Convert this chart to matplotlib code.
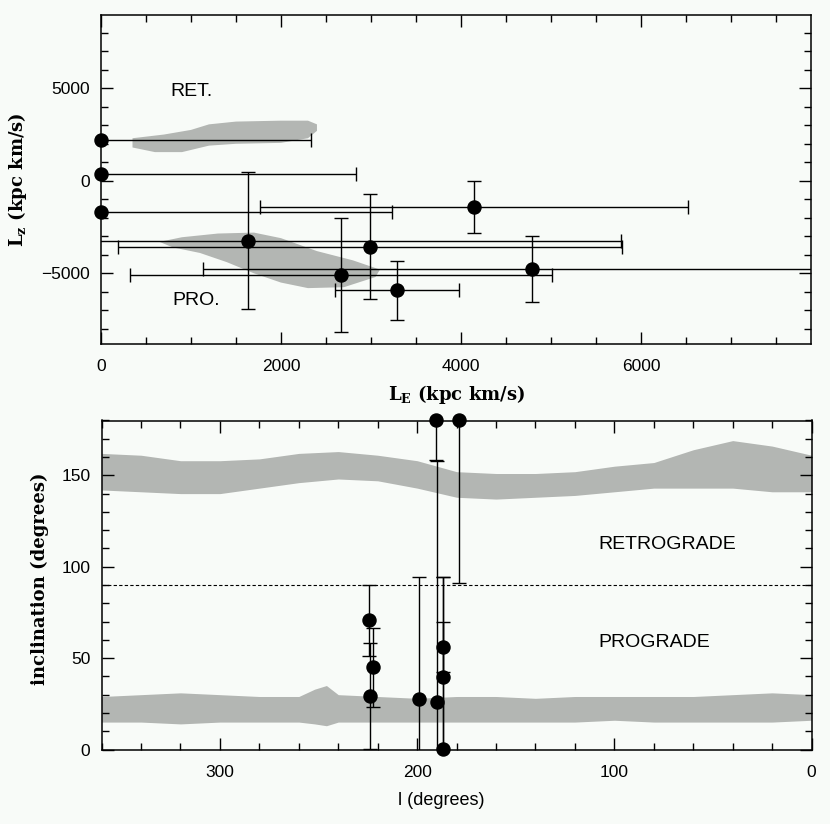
import numpy as np
import matplotlib
matplotlib.use("Agg")
import matplotlib.pyplot as plt
from matplotlib.ticker import MultipleLocator

# ---- top panel: L_E vs L_z ----
le = [0, 0, 0, 1633, 2986, 2667, 4785, 3292, 4144]
lz = [2205, 370, -1700, -3240, -3560, -5090, -4770, -5920, -1400]
le_err = [2330, 2830, 3230, 4145, 2800, 2350, 3650, 690, 2375]
lz_err = [0, 0, 0, 3700, 2850, 3070, 1800, 1600, 1400]

# outlines of the simulated orbit clouds
ret_cloud_le = [350, 700, 1000, 1200, 1500, 2000, 2300, 2400, 2400, 2300, 2000, 1500, 1200, 900, 600, 350]
ret_cloud_lz = [2300, 2500, 2750, 3050, 3200, 3250, 3250, 3050, 2700, 2300, 2050, 2000, 1900, 1550, 1550, 1800]
pro_cloud_le = [650, 900, 1300, 1700, 2000, 2400, 2800, 3100, 3050, 2700, 2300, 2000, 1700, 1400, 1100, 800]
pro_cloud_lz = [-3300, -3050, -2850, -2800, -3100, -3800, -4300, -4800, -5200, -5750, -5800, -5500, -5000, -4400, -3900, -3600]

# ---- bottom panel: longitude vs inclination ----
lon = [224.5, 222.3, 223.9, 199.3, 190.0, 187.0, 187.0, 186.8, 190.2, 178.7]
incl = [70.8, 45.0, 29.2, 27.8, 26.1, 56.0, 39.6, 0.5, 180.0, 180.0]
incl_err = [19.4, 21.6, 28.8, 66.6, 132.0, 13.7, 54.8, 94.0, 21.7, 89.0]

band_lon = [360, 340, 320, 300, 280, 260, 240, 220, 200, 180, 160, 140, 120, 100, 80, 60, 40, 20, 0]
retro_hi = [162, 161, 158, 158, 159, 162, 163, 161, 158, 152, 151, 151, 152, 155, 157, 164, 169, 166, 161]
retro_lo = [142, 141, 140, 140, 143, 146, 148, 147, 143, 138, 137, 138, 139, 141, 143, 143, 143, 141, 141]

pro_lon = [360, 340, 320, 300, 280, 260, 252, 246, 240, 220, 200, 180, 160, 140, 120, 100, 80, 60, 40, 20, 0]
pro_hi = [29, 30, 31, 30, 29, 29, 33, 35, 30, 29, 28, 29, 29, 28, 29, 29, 29, 29, 30, 31, 30]
pro_lo = [15, 15, 14, 15, 15, 15, 14, 13, 15, 15, 15, 15, 15, 15, 15, 16, 15, 15, 15, 15, 16]

bg = '#f8fbf8'
cloud = '#b3b6b3'
sans = ['Liberation Sans', 'DejaVu Sans']
serif = ['DejaVu Serif']

plt.rcParams['font.family'] = sans
plt.rcParams['mathtext.fontset'] = 'dejavuserif'

fig = plt.figure(figsize=(8.3, 8.24), dpi=100, facecolor=bg)
ax1 = fig.add_axes([101 / 830, 1 - 344 / 824, 710 / 830, 329 / 824], facecolor=bg)
ax2 = fig.add_axes([101.6 / 830, 1 - 749.5 / 824, 710 / 830, 329 / 824], facecolor=bg)


def style_axes(ax):
    ax.tick_params(which='both', direction='in', top=True, right=True, width=1.0,
                   labelsize=12.5, pad=11)
    ax.tick_params(which='major', length=8.5)
    ax.tick_params(which='minor', length=5)
    ax.tick_params(axis='y', pad=8)
    for s in ax.spines.values():
        s.set_linewidth(1.1)


# top panel
ax1.fill(ret_cloud_le, ret_cloud_lz, color=cloud, lw=0, zorder=1)
ax1.fill(pro_cloud_le, pro_cloud_lz, color=cloud, lw=0, zorder=1)
ax1.errorbar(le, lz, xerr=le_err, fmt='none', ecolor='black', elinewidth=1.0,
             capsize=4.7, capthick=1.0, zorder=2)
has_yerr = [i for i in range(len(lz_err)) if lz_err[i] > 0]
ax1.errorbar([le[i] for i in has_yerr], [lz[i] for i in has_yerr],
             yerr=[lz_err[i] for i in has_yerr], fmt='none', ecolor='black',
             elinewidth=1.0, capsize=4.7, capthick=1.0, zorder=2)
ax1.plot(le, lz, 'o', color='black', ms=9.4, clip_on=False, zorder=3)
ax1.text(770, 4800, 'RET.', fontsize=14, va='center', ha='left')
ax1.text(790, -6450, 'PRO.', fontsize=14, va='center', ha='left')

ax1.set_xlim(0, 7890)
ax1.set_ylim(-8820, 8960)
ax1.xaxis.set_major_locator(MultipleLocator(2000))
ax1.xaxis.set_minor_locator(MultipleLocator(500))
ax1.yaxis.set_major_locator(MultipleLocator(5000))
ax1.yaxis.set_minor_locator(MultipleLocator(1000))
style_axes(ax1)
ax1.set_xlabel(r'L$_\mathbf{E}$ (kpc km/s)', family=serif, fontsize=13, fontweight='bold')
ax1.set_ylabel(r'L$_\mathbf{z}$ (kpc km/s)', family=serif, fontsize=13, fontweight='bold')
ax1.xaxis.set_label_coords(0.5, -0.155)
ax1.xaxis.label.set_verticalalignment('center')
ax1.yaxis.set_label_coords(-0.118, 0.498)
ax1.yaxis.label.set_verticalalignment('center')

# bottom panel
ax2.fill_between(band_lon, retro_lo, retro_hi, color=cloud, lw=0, zorder=1)
ax2.fill_between(pro_lon, pro_lo, pro_hi, color=cloud, lw=0, zorder=1)
ax2.axhline(90, color='black', lw=0.8, ls=(0, (3, 2)), zorder=2)
ax2.errorbar(lon, incl, yerr=incl_err, fmt='none', ecolor='black', elinewidth=1.0,
             capsize=4.7, capthick=1.0, zorder=2)
ax2.plot(lon, incl, 'o', color='black', ms=9.4, clip_on=False, zorder=3)
ax2.text(108, 112, 'RETROGRADE', fontsize=14, va='center', ha='left')
ax2.text(108, 58.6, 'PROGRADE', fontsize=14, va='center', ha='left')

ax2.set_xlim(360, 0)
ax2.set_ylim(0, 180)
ax2.xaxis.set_major_locator(MultipleLocator(100))
ax2.xaxis.set_minor_locator(MultipleLocator(20))
ax2.yaxis.set_major_locator(MultipleLocator(50))
ax2.yaxis.set_minor_locator(MultipleLocator(10))
style_axes(ax2)
ax2.set_xlabel('l (degrees)', fontsize=13)
ax2.set_ylabel('inclination (degrees)', family=serif, fontsize=13, fontweight='bold')
ax2.xaxis.set_label_coords(0.479, -0.154)
ax2.xaxis.label.set_verticalalignment('center')
ax2.yaxis.set_label_coords(-0.087, 0.52)
ax2.yaxis.label.set_verticalalignment('center')

fig.savefig('out.png', dpi=100, facecolor=bg)
